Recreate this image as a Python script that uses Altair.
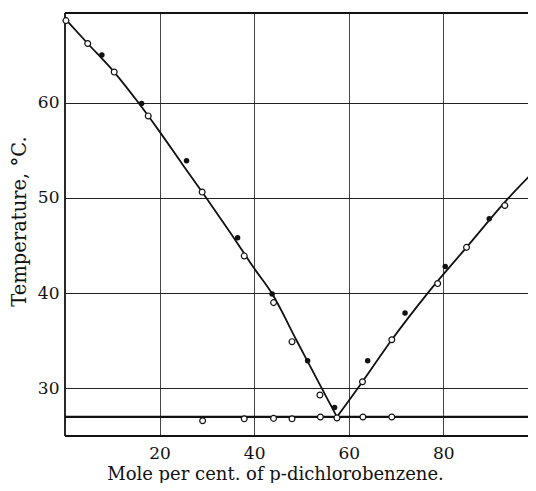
import altair as alt
import pandas as pd

# ---- data ----
left_curve_x = [0, 4.8, 10.4, 15.5, 20, 25, 30, 35, 40, 43.7, 49, 54.3, 57.5]
left_curve_y = [68.8, 66.2, 63.2, 60.0, 56.95, 53.4, 49.9, 46.3, 42.6, 40.0, 35.0, 30.0, 27.0]
right_curve_x = [57.5, 62.9, 69.1, 76.7, 84.9, 93.8, 100]
right_curve_y = [27.0, 30.7, 35.1, 40.0, 44.8, 50.0, 53.2]
eutectic_temp = [27.0]

open_x = [0.2, 4.8, 10.4, 17.6, 29.0, 37.9, 44.1, 48.0, 53.9, 57.5, 62.9, 69.1, 78.8, 84.9, 93.0]
open_y = [68.6, 66.2, 63.2, 58.6, 50.6, 43.9, 39.0, 34.9, 29.3, 26.9, 30.7, 35.1, 41.0, 44.8, 49.2]
halt_x = [29.1, 37.9, 44.1, 48.0, 54.0, 63.0, 69.1]
halt_y = [26.6, 26.8, 26.85, 26.8, 27.0, 27.0, 27.0]
filled_x = [7.8, 16.2, 25.7, 36.5, 43.8, 51.3, 57.0, 64.0, 71.9, 80.4, 89.7]
filled_y = [65.0, 59.9, 53.9, 45.8, 39.9, 32.9, 28.0, 32.9, 37.9, 42.8, 47.8]

x_ticks = [20, 40, 60, 80]
y_ticks = [30, 40, 50, 60]
x_domain = [0, 97.9]   # the scanned figure is cut off just short of 100
y_domain = [25, 69.4]

x_title = "Mole per cent. of p-dichlorobenzene."
y_title = "Temperature, °C."

FONT = "DejaVu Serif"
INK = "#111111"

# ---- tables ----
curves = pd.DataFrame({
    "x": left_curve_x + right_curve_x,
    "y": left_curve_y + right_curve_y,
    "branch": ["left"] * len(left_curve_x) + ["right"] * len(right_curve_x),
})
open_pts = pd.DataFrame({"x": open_x + halt_x, "y": open_y + halt_y})
filled_pts = pd.DataFrame({"x": filled_x, "y": filled_y})
eut = pd.DataFrame({"y": eutectic_temp})
frame_v = pd.DataFrame({"x": [x_domain[0]]})
frame_h = pd.DataFrame({"y": y_domain})

xs = alt.Scale(domain=x_domain, nice=False, zero=False)
ys = alt.Scale(domain=y_domain, nice=False, zero=False)

x_axis = alt.Axis(
    values=x_ticks, title=x_title, grid=True, ticks=False, tickSize=0, domain=False,
    gridColor="#444444", gridWidth=1,
    labelFont=FONT, labelFontSize=17, labelColor=INK,
    labelBaseline="alphabetic", labelPadding=22,
    titleFont=FONT, titleFontSize=18, titleFontWeight="normal", titleColor=INK,
    titleX=210, titleY=43, titleBaseline="alphabetic", titleAlign="center",
)
y_axis = alt.Axis(
    values=y_ticks, title=y_title, grid=True, ticks=False, tickSize=0, domain=False,
    gridColor="#222222", gridWidth=1,
    labelFont=FONT, labelFontSize=17, labelColor=INK,
    labelBaseline="middle", labelPadding=6,
    titleFont=FONT, titleFontSize=19.5, titleFontWeight="normal", titleColor=INK,
    titleX=-40, titleY=208, titleBaseline="alphabetic", titleAlign="center", titleAngle=270,
)

X = alt.X("x:Q", scale=xs, axis=x_axis)
Y = alt.Y("y:Q", scale=ys, axis=y_axis)

lines = alt.Chart(curves).mark_line(
    color=INK, strokeWidth=1.8, interpolate="monotone", clip=True
).encode(x=X, y=Y, detail="branch:N")
eut_line = alt.Chart(eut).mark_rule(color=INK, strokeWidth=2.2).encode(y=Y)
left_frame = alt.Chart(frame_v).mark_rule(color=INK, strokeWidth=1.8).encode(x=X)
hframes = alt.Chart(frame_h).mark_rule(color=INK, strokeWidth=1.8).encode(y=Y)
opens = alt.Chart(open_pts).mark_point(
    shape="circle", filled=True, fill="white", stroke=INK, strokeWidth=1.2, size=34, opacity=1
).encode(x=X, y=Y)
filled = alt.Chart(filled_pts).mark_circle(color=INK, size=30, opacity=1).encode(x=X, y=Y)

chart = alt.layer(hframes, left_frame, eut_line, lines, opens, filled).properties(
    width=463, height=423,
    autosize=alt.AutoSizeParams(type="none"),
    padding={"left": 57, "top": 5, "right": 0, "bottom": 47},
    background="white",
).configure_view(stroke=None)

chart.save("out.html", embed_options={"renderer": "svg", "actions": False})
